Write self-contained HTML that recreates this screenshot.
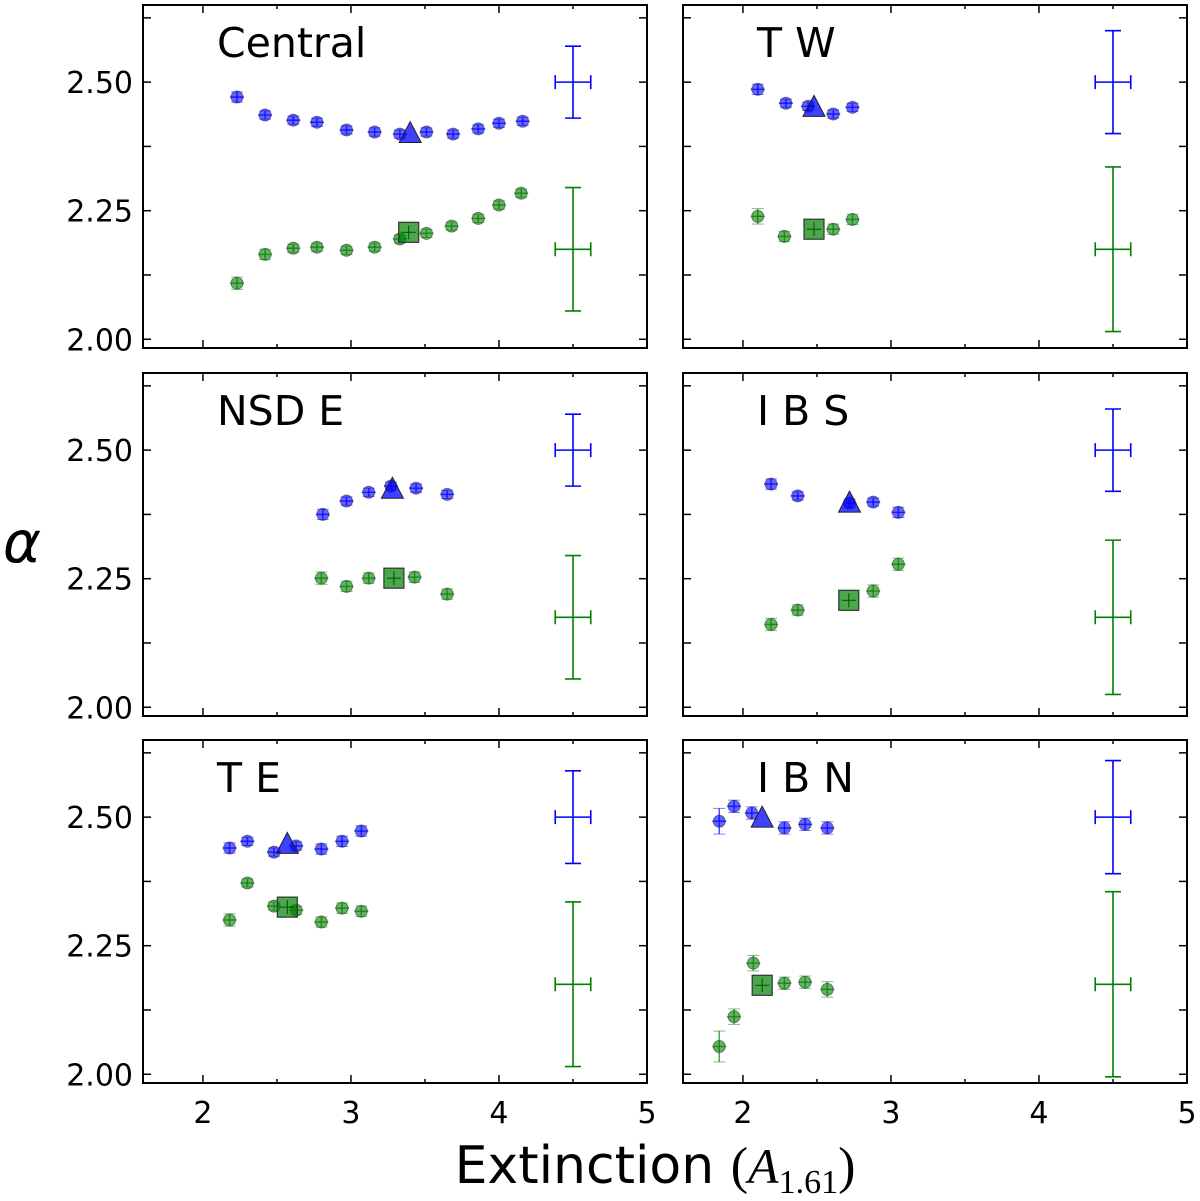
<!DOCTYPE html>
<html><head><meta charset="utf-8"><style>
html,body{margin:0;padding:0;background:#fff}
svg{display:block}
text{font-family:"DejaVu Sans","Liberation Sans",sans-serif}
</style></head>
<body>
<svg id="fig" width="1200" height="1201" viewBox="0 0 1200 1201" xmlns="http://www.w3.org/2000/svg">
<text x="22" y="562" font-family="Liberation Serif, serif" font-style="italic" font-size="58" text-anchor="middle">α</text>
<text x="655" y="1183" font-size="52" text-anchor="middle">Extinction <tspan font-family="Liberation Serif, serif" font-size="52">(</tspan><tspan font-family="Liberation Serif, serif" font-style="italic" font-size="50">A</tspan><tspan font-family="Liberation Serif, serif" font-size="34" dy="10">1.61</tspan><tspan font-family="Liberation Serif, serif" font-size="52" dy="-10">)</tspan></text>
</svg>
<script>
// ---- data ----
const panelNames = ["Central","T W","NSD E","I B S","T E","I B N"];
const blueX = [
 [2.23,2.42,2.61,2.77,2.97,3.16,3.33,3.51,3.69,3.86,4.00,4.16],
 [2.10,2.29,2.44,2.61,2.74],
 [2.81,2.97,3.12,3.27,3.44,3.65],
 [2.19,2.37,2.72,2.88,3.05],
 [2.18,2.30,2.48,2.63,2.80,2.94,3.07],
 [1.84,1.94,2.06,2.28,2.42,2.57]];
const blueY = [
 [2.471,2.436,2.426,2.422,2.407,2.403,2.399,2.403,2.399,2.409,2.420,2.424],
 [2.486,2.459,2.453,2.438,2.451],
 [2.375,2.401,2.418,2.430,2.426,2.414],
 [2.434,2.411,2.397,2.399,2.379],
 [2.440,2.453,2.432,2.444,2.438,2.453,2.473],
 [2.492,2.521,2.508,2.479,2.486,2.479]];
const blueErr = [
 [0.01,0.008,0.008,0.008,0.008,0.008,0.008,0.008,0.008,0.008,0.008,0.008],
 [0.01,0.008,0.008,0.008,0.008],
 [0.01,0.008,0.008,0.008,0.008,0.008],
 [0.01,0.008,0.008,0.008,0.01],
 [0.01,0.008,0.008,0.008,0.01,0.01,0.01],
 [0.025,0.012,0.012,0.012,0.012,0.012]];
const greenX = [
 [2.23,2.42,2.61,2.77,2.97,3.16,3.33,3.51,3.68,3.86,4.00,4.15],
 [2.10,2.28,2.61,2.74],
 [2.80,2.97,3.12,3.43,3.65],
 [2.19,2.37,2.88,3.05],
 [2.18,2.30,2.48,2.63,2.80,2.94,3.07],
 [1.84,1.94,2.07,2.28,2.42,2.57]];
const greenY = [
 [2.109,2.165,2.177,2.179,2.173,2.179,2.195,2.206,2.220,2.235,2.261,2.284],
 [2.239,2.200,2.214,2.233],
 [2.251,2.235,2.251,2.253,2.220],
 [2.161,2.189,2.226,2.278],
 [2.300,2.372,2.327,2.319,2.296,2.323,2.317],
 [2.054,2.112,2.216,2.177,2.179,2.165]];
const greenErr = [
 [0.012,0.01,0.008,0.008,0.008,0.008,0.008,0.008,0.008,0.008,0.008,0.008],
 [0.015,0.01,0.01,0.01],
 [0.012,0.01,0.01,0.01,0.01],
 [0.012,0.01,0.012,0.012],
 [0.012,0.008,0.008,0.008,0.01,0.01,0.01],
 [0.03,0.015,0.015,0.012,0.012,0.015]];
const triX = [3.40,2.48,3.28,2.72,2.57,2.13];
const triY = [2.400,2.451,2.424,2.397,2.447,2.498];
const sqX = [3.39,2.48,3.29,2.715,2.57,2.13];
const sqY = [2.208,2.214,2.251,2.208,2.325,2.173];
const refBlueErr = [0.07,0.10,0.07,0.08,0.09,0.11];
const refGreenErr = [0.12,0.16,0.12,0.15,0.16,0.18];
const refX = 4.5, refBlueY = 2.5, refGreenY = 2.175, refXErr = 0.12;
const xTicks = [2,3,4,5];
const yTicks = [2.00,2.25,2.50];

// ---- layout ----
const NS="http://www.w3.org/2000/svg";
const svg=document.getElementById('fig');
const colsX=[143,683], rowsY=[5,373,740], PW=504, PH=343;
const XMIN=1.595, XMAX=5.0, YMIN=1.983, YMAX=2.65;
function mk(tag,attrs,parent){const e=document.createElementNS(NS,tag);for(const k in attrs)e.setAttribute(k,attrs[k]);(parent||svg).appendChild(e);return e;}

for(let p=0;p<6;p++){
 const c=p%2, r=Math.floor(p/2);
 const x0=colsX[c], y0=rowsY[r];
 const sx=v=>x0+(v-XMIN)/(XMAX-XMIN)*PW;
 const sy=v=>y0+(YMAX-v)/(YMAX-YMIN)*PH;
 const g=mk('g',{});
 
 
 for(let t=2.0;t<=4.999;t+=0.5){
  const len=(Math.abs(t-Math.round(t))<1e-6)?8:4, X=sx(t);
  mk('line',{x1:X,y1:y0+PH,x2:X,y2:y0+PH-len,stroke:'#000','stroke-width':1.5},g);
  mk('line',{x1:X,y1:y0,x2:X,y2:y0+len,stroke:'#000','stroke-width':1.5},g);
 }
 for(let t=2.0;t<=2.63;t+=0.125){
  const Y=sy(t), len=8;
  mk('line',{x1:x0,y1:Y,x2:x0+len,y2:Y,stroke:'#000','stroke-width':1.5},g);
  mk('line',{x1:x0+PW,y1:Y,x2:x0+PW-len,y2:Y,stroke:'#000','stroke-width':1.5},g);
 }
 if(c===0){
  yTicks.forEach(t=>{
   const tl=mk('text',{x:x0-10,y:sy(t)+11,'font-size':30,'text-anchor':'end'},g);
   
   
   tl.textContent=t.toFixed(2);
  });
 }
 if(r===2){
  xTicks.forEach(t=>{
   const tl=mk('text',{x:sx(t),y:y0+PH+40,'font-size':30,'text-anchor':'middle'},g);
   
   
   tl.textContent=t;
  });
 }
 const lab=mk('text',{x:x0+74,y:y0+52,'font-size':41},g);
 
 
 lab.textContent=panelNames[p];

 function pt(xv,yv,ye,col,name){
  const X=sx(xv),Y=sy(yv),e=Math.max(3,(sy(yv-ye)-Y)),ex=7;
  const gg=mk('g',{},g);
  
  
  mk('circle',{cx:X,cy:Y,r:6,fill:col,'fill-opacity':0.6,stroke:'#333','stroke-opacity':0.6,'stroke-width':1},gg);
  mk('line',{x1:X,y1:Y-e,x2:X,y2:Y+e,stroke:col,'stroke-width':1.5,'stroke-opacity':0.7},gg);
  mk('line',{x1:X-ex,y1:Y,x2:X+ex,y2:Y,stroke:col,'stroke-width':1.5,'stroke-opacity':0.7},gg);
  mk('line',{x1:X-6,y1:Y-e,x2:X+6,y2:Y-e,stroke:col,'stroke-width':1,'stroke-opacity':0.5},gg);
  mk('line',{x1:X-6,y1:Y+e,x2:X+6,y2:Y+e,stroke:col,'stroke-width':1,'stroke-opacity':0.5},gg);
 }
 blueX[p].forEach((v,i)=>pt(v,blueY[p][i],blueErr[p][i],'#0000ff','blue-point'));
 greenX[p].forEach((v,i)=>pt(v,greenY[p][i],greenErr[p][i],'#008000','green-point'));
 {const X=sx(triX[p]),Y=sy(triY[p]);
  const t=mk('polygon',{points:`${X},${Y-12} ${X-11},${Y+9} ${X+11},${Y+9}`,fill:'#0000ff','fill-opacity':0.75,stroke:'#222','stroke-width':1},g);
  
  }
 {const X=sx(sqX[p]),Y=sy(sqY[p]);
  const s=mk('rect',{x:X-10,y:Y-10,width:20,height:20,fill:'#008000','fill-opacity':0.7,stroke:'#333','stroke-width':1.2},g);
  
  
  mk('line',{x1:X-7,y1:Y,x2:X+7,y2:Y,stroke:'#005000','stroke-width':1},g);
  mk('line',{x1:X,y1:Y-7,x2:X,y2:Y+7,stroke:'#005000','stroke-width':1},g);}
 function ref(yv,ye,col,name){
  const X=sx(refX),Y=sy(yv),Yt=sy(yv+ye),Yb=sy(yv-ye),X1=sx(refX-refXErr),X2=sx(refX+refXErr);
  const gg=mk('g',{stroke:col,'stroke-width':1.6},g);
  
  
  mk('line',{x1:X,y1:Yt,x2:X,y2:Yb},gg);
  mk('line',{x1:X1,y1:Y,x2:X2,y2:Y},gg);
  mk('line',{x1:X-8,y1:Yt,x2:X+8,y2:Yt},gg);
  mk('line',{x1:X-8,y1:Yb,x2:X+8,y2:Yb},gg);
  mk('line',{x1:X1,y1:Y-7,x2:X1,y2:Y+7},gg);
  mk('line',{x1:X2,y1:Y-7,x2:X2,y2:Y+7},gg);
 }
 ref(refBlueY,refBlueErr[p],'#0000ff','reference-error-blue');
 ref(refGreenY,refGreenErr[p],'#008000','reference-error-green');
 mk('rect',{x:x0,y:y0,width:PW,height:PH,fill:'none',stroke:'#000','stroke-width':2},g);
}
</script>
</body></html>
